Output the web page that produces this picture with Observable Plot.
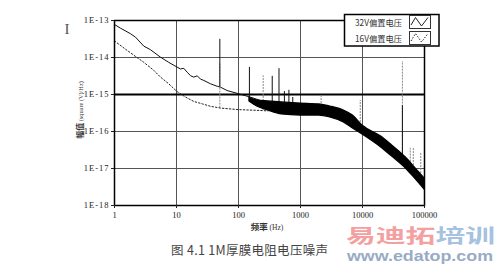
<!DOCTYPE html>
<html>
<head>
<meta charset="utf-8">
<script src="https://cdn.jsdelivr.net/npm/d3@7"></script>
<script src="https://cdn.jsdelivr.net/npm/@observablehq/plot@0.6"></script>
<style>
  html, body { margin: 0; padding: 0; background: white; }
  #wrap { position: relative; width: 500px; height: 266px; overflow: hidden; }
  #overlay { position: absolute; left: 0; top: 0; pointer-events: none; }
  g[aria-label="y-axis tick label"] text { letter-spacing: 1px; }
</style>
</head>
<body>
<div id="wrap"></div>
<script>
// ---- tick values and labels ----
const xTicks = [1, 10, 100, 1000, 10000, 100000];
const xTickLabels = ["1", "10", "100", "1000", "10000", "100000"];
const yTicks = [1e-18, 1e-17, 1e-16, 1e-15, 1e-14, 1e-13];
const yTickLabels = ["1E-18", "1E-17", "1E-16", "1E-15", "1E-14", "1E-13"];

// ---- 32V bias (solid) low-frequency part ----
const freq32 = [1, 1.25, 1.81, 2.18, 2.97, 3.81, 5.52, 7.49, 10.2, 11.6, 13.1, 14.9, 16.9, 19.0, 21.6, 24.4, 27.6, 35.3, 45.3, 51.2, 65.5, 100, 155, 226];
const psd32 = [7.8e-14, 6.2e-14, 4.4e-14, 3.55e-14, 2.03e-14, 1.62e-14, 1.02e-14, 7.4e-15, 5.5e-15, 4.9e-15, 5.1e-15, 4.0e-15, 3.2e-15, 2.95e-15, 3.2e-15, 2.6e-15, 2.4e-15, 1.95e-15, 1.67e-15, 1.58e-15, 1.28e-15, 1.05e-15, 8.5e-16, 6.9e-16];

// ---- 16V bias (dotted) low-frequency part ----
const freq16 = [1, 1.6, 2.97, 4.3, 5.52, 7.49, 10.2, 14.0, 19.0, 25.9, 35.3, 51.2, 100, 226, 300];
const psd16 = [2.8e-14, 1.55e-14, 7.4e-15, 4.5e-15, 2.95e-15, 1.95e-15, 1.2e-15, 8.5e-16, 6.5e-16, 5.6e-16, 4.8e-16, 4.3e-16, 3.9e-16, 3.7e-16, 3.6e-16];

// ---- merged noisy band (both curves) ----
const bandFreq = [150, 200, 300, 500, 1000, 2000, 3000, 5000, 7000, 10000, 20000, 30000, 50000, 70000, 100000];
const bandTop = [8.3e-16, 6.9e-16, 6.5e-16, 6.1e-16, 5.7e-16, 5.4e-16, 4.75e-16, 3.7e-16, 2.7e-16, 1.45e-16, 7.3e-17, 4.2e-17, 1.98e-17, 1.06e-17, 5.4e-18];
const bandBottom = [6.5e-16, 4.75e-16, 3.7e-16, 2.9e-16, 2.7e-16, 2.7e-16, 2.4e-16, 1.75e-16, 1.2e-16, 8.3e-17, 3.7e-17, 2.1e-17, 1.0e-17, 5.4e-18, 2.7e-18];

// ---- spikes (32V, solid) ----
const spikeFreq32 = [50, 150, 350, 450, 550, 650, 750, 44000];
const spikeBase32 = [1.6e-15, 8.3e-16, 6.4e-16, 6.1e-16, 6.0e-16, 6.0e-16, 5.8e-16, 2.3e-17];
const spikeTop32 = [3.1e-14, 5.4e-15, 3.1e-15, 5.0e-15, 1.2e-15, 1.3e-15, 8.3e-16, 5.0e-16];

// ---- spikes (16V, dotted) ----
const spikeFreq16 = [50, 250, 2150, 9200, 44000, 59000, 66000, 87000];
const spikeBase16 = [4.3e-16, 3.7e-16, 2.7e-16, 1.0e-16, 2.3e-17, 1.5e-17, 1.2e-17, 7.3e-18];
const spikeTop16 = [6.9e-15, 3.2e-15, 1.07e-15, 6.9e-16, 7.8e-15, 3.5e-17, 3.7e-17, 2.7e-17];

const seriesNames = ["32V偏置电压", "16V偏置电压"];
const xLabelMain = "频率", xLabelUnit = " (Hz)";
const yLabelMain = "幅值", yLabelUnit = " (square (V)/Hz)";
const captionText = "图 4.1 1M厚膜电阻电压噪声";

// ---- tables built from arrays ----
const line32 = freq32.map((f, i) => ({f, v: psd32[i]}));
const line16 = freq16.map((f, i) => ({f, v: psd16[i]}));
const band = bandFreq.map((f, i) => ({f, hi: bandTop[i], lo: bandBottom[i]}));
const sp32 = spikeFreq32.map((f, i) => ({f, base: spikeBase32[i], top: spikeTop32[i]}));
const sp16 = spikeFreq16.map((f, i) => ({f, base: spikeBase16[i], top: spikeTop16[i]}));

const chart = Plot.plot({
  width: 500,
  height: 266,
  marginLeft: 114,
  marginRight: 76,
  marginTop: 20,
  marginBottom: 61,
  style: {fontFamily: "'Liberation Serif', serif", fontSize: "8.5px", background: "white", color: "#222"},
  x: {type: "log", domain: [1, 100000]},
  y: {type: "log", domain: [1e-18, 1e-13]},
  marks: [
    Plot.ruleX(xTicks.slice(1, -1), {stroke: "#555", strokeWidth: 1}),
    Plot.ruleY(yTicks.filter(d => d !== 1e-15 && d !== 1e-13 && d !== 1e-18), {stroke: "#555", strokeWidth: 1}),
    Plot.ruleY([1e-15], {stroke: "black", strokeWidth: 2}),
    Plot.ruleX(sp16, {x: "f", y1: "base", y2: "top", stroke: "#888", strokeWidth: 1, strokeDasharray: "2,1"}),
    Plot.ruleX(sp32, {x: "f", y1: "base", y2: "top", stroke: "#111", strokeWidth: 1}),
    Plot.areaY(band, {x: "f", y1: "lo", y2: "hi", fill: "black", stroke: "black", strokeWidth: 1.2, curve: "monotone-x"}),
    Plot.line(line16, {x: "f", y: "v", stroke: "#222", strokeWidth: 1, strokeDasharray: "1.5,2"}),
    Plot.line(line32, {x: "f", y: "v", stroke: "#111", strokeWidth: 1}),
    Plot.frame({stroke: "black", strokeWidth: 1.5}),
    Plot.axisX({ticks: xTicks, tickFormat: d => xTickLabels[xTicks.indexOf(d)], tickSize: 3, tickPadding: 3, label: null}),
    Plot.axisY({ticks: yTicks, tickFormat: d => yTickLabels[yTicks.indexOf(d)], tickSize: 3, tickPadding: 2, label: null})
  ]
});

const wrap = document.getElementById("wrap");
wrap.appendChild(chart);

const NS = "http://www.w3.org/2000/svg";
const ov = document.createElementNS(NS, "svg");
ov.setAttribute("id", "overlay");
ov.setAttribute("width", 500);
ov.setAttribute("height", 266);
ov.innerHTML = `
  <text x="67" y="34" font-family="Liberation Serif" font-size="15" fill="#555" text-anchor="middle">I</text>
  <text transform="translate(82.5,110) rotate(-90)" text-anchor="middle" fill="#333">
    <tspan font-family="Noto Sans CJK SC" font-weight="bold" font-size="8">${yLabelMain}</tspan><tspan font-family="Liberation Serif" font-size="6.3">${yLabelUnit}</tspan>
  </text>
  <text x="267" y="230" text-anchor="middle" fill="#333">
    <tspan font-family="Noto Sans CJK SC" font-weight="bold" font-size="8.5">${xLabelMain}</tspan><tspan font-family="Liberation Serif" font-size="7.5">${xLabelUnit}</tspan>
  </text>
  <text x="171" y="255" font-family="Noto Sans CJK SC" font-size="12.5" fill="#444" textLength="157" lengthAdjust="spacing">${captionText}</text>
  <rect x="344.5" y="14.5" width="94.5" height="31.5" fill="white" stroke="black" stroke-width="1.5"/>
  <text x="355" y="25.5" font-family="Noto Sans CJK SC" font-size="8.5" fill="#333" textLength="47" lengthAdjust="spacingAndGlyphs">${seriesNames[0]}</text>
  <text x="355" y="41.5" font-family="Noto Sans CJK SC" font-size="8.5" fill="#333" textLength="47" lengthAdjust="spacingAndGlyphs">${seriesNames[1]}</text>
  <rect x="409.5" y="15.5" width="21" height="13" fill="white" stroke="#333" stroke-width="1"/>
  <rect x="409.5" y="31.5" width="21" height="13" fill="white" stroke="#333" stroke-width="1"/>
  <polyline points="411,25 415.5,17.5 421.5,26 428,17.5" fill="none" stroke="#222" stroke-width="1"/>
  <polyline points="411,41 415.5,33.5 421.5,42 428,33.5" fill="none" stroke="#222" stroke-width="1" stroke-dasharray="1.5,1.5"/>
  <text x="346" y="243" font-family="Noto Sans CJK SC" font-weight="bold" font-size="19" textLength="149" lengthAdjust="spacingAndGlyphs"><tspan fill="#f4a0a0">易迪拓</tspan><tspan fill="#a6c2e0">培训</tspan></text>
  <text x="347" y="260.5" font-family="Liberation Sans" font-weight="bold" font-size="14.5" fill="#98abc6" textLength="146" lengthAdjust="spacingAndGlyphs">www.edatop.com</text>
`;
wrap.appendChild(ov);
</script>
</body>
</html>
